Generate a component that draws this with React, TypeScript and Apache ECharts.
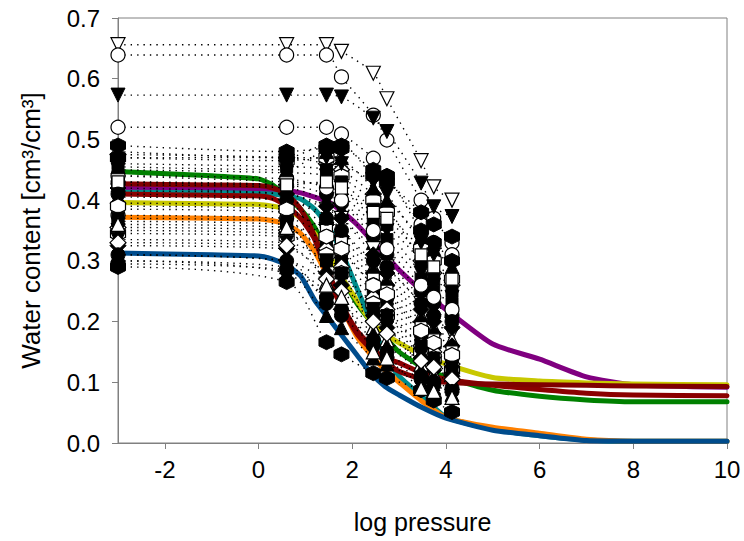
import React, { useEffect, useRef } from 'react';
import * as echarts from 'echarts';

// Observation pressure columns (log pressure)
const OBS_X = [-3, 0.6, 1.45, 1.77, 2.45, 2.74, 3.47, 3.74, 4.13];

// Marker codes: c=circle, td=triangle down, tu=triangle up, s=square, d=diamond, h=hexagon; o=open, f=filled
const SAMPLE_SHAPES = [
  'tdo', 'co', 'tdf', 'co', 'hf', 'do', 'ho', 'tdf', 'sf', 'cf',
  'tuf', 'tdo', 'tuo', 'df', 'so', 'co', 'sf', 'do', 'ho', 'tdf',
  'df', 'tuo', 'tuf', 'cf', 'hf', 'tuf', 'co', 'sf', 'tdf', 'df',
  'hf', 'tuf', 'so', 'cf', 'ho', 'sf', 'tdf', 'do', 'cf', 'tuo',
];

const SAMPLE_VALUES = [
  [0.656, 0.656, 0.656, 0.645, 0.609, 0.567, 0.465, 0.422, 0.400],
  [0.639, 0.639, 0.639, 0.603, 0.540, 0.499, 0.400, 0.370, 0.330],
  [0.573, 0.573, 0.573, 0.570, 0.535, 0.513, 0.428, 0.389, 0.373],
  [0.520, 0.520, 0.520, 0.509, 0.469, 0.439, 0.360, 0.330, 0.310],
  [0.490, 0.480, 0.485, 0.485, 0.450, 0.440, 0.350, 0.330, 0.300],
  [0.475, 0.470, 0.460, 0.450, 0.410, 0.390, 0.300, 0.280, 0.260],
  [0.470, 0.465, 0.470, 0.440, 0.400, 0.380, 0.320, 0.300, 0.270],
  [0.450, 0.445, 0.440, 0.420, 0.370, 0.350, 0.280, 0.260, 0.240],
  [0.440, 0.430, 0.425, 0.410, 0.360, 0.335, 0.270, 0.250, 0.230],
  [0.430, 0.425, 0.410, 0.395, 0.340, 0.310, 0.250, 0.230, 0.210],
  [0.425, 0.420, 0.400, 0.385, 0.330, 0.300, 0.240, 0.220, 0.200],
  [0.415, 0.410, 0.385, 0.370, 0.320, 0.290, 0.230, 0.200, 0.180],
  [0.405, 0.400, 0.375, 0.350, 0.290, 0.270, 0.210, 0.190, 0.170],
  [0.395, 0.390, 0.360, 0.340, 0.280, 0.260, 0.200, 0.180, 0.160],
  [0.385, 0.380, 0.350, 0.330, 0.270, 0.250, 0.190, 0.170, 0.150],
  [0.375, 0.370, 0.340, 0.315, 0.260, 0.240, 0.180, 0.160, 0.140],
  [0.365, 0.360, 0.330, 0.300, 0.250, 0.230, 0.170, 0.155, 0.135],
  [0.355, 0.350, 0.320, 0.290, 0.240, 0.220, 0.160, 0.150, 0.130],
  [0.345, 0.340, 0.310, 0.280, 0.230, 0.210, 0.150, 0.140, 0.120],
  [0.335, 0.330, 0.300, 0.270, 0.220, 0.200, 0.145, 0.130, 0.115],
  [0.325, 0.320, 0.280, 0.260, 0.210, 0.190, 0.140, 0.120, 0.110],
  [0.310, 0.300, 0.265, 0.240, 0.190, 0.170, 0.130, 0.115, 0.100],
  [0.300, 0.290, 0.250, 0.230, 0.180, 0.160, 0.120, 0.110, 0.095],
  [0.295, 0.285, 0.240, 0.220, 0.170, 0.150, 0.110, 0.100, 0.090],
  [0.290, 0.265, 0.166, 0.146, 0.115, 0.107, 0.087, 0.070, 0.051],
  [0.300, 0.280, 0.210, 0.190, 0.140, 0.130, 0.100, 0.090, 0.080],
  [0.440, 0.435, 0.420, 0.400, 0.350, 0.320, 0.260, 0.240, 0.220],
  [0.460, 0.455, 0.450, 0.430, 0.385, 0.360, 0.300, 0.270, 0.250],
  [0.480, 0.470, 0.470, 0.460, 0.430, 0.410, 0.330, 0.310, 0.290],
  [0.420, 0.410, 0.390, 0.370, 0.310, 0.280, 0.220, 0.200, 0.190],
  [0.470, 0.470, 0.490, 0.490, 0.440, 0.430, 0.380, 0.360, 0.340],
  [0.455, 0.450, 0.480, 0.470, 0.420, 0.400, 0.340, 0.320, 0.290],
  [0.430, 0.425, 0.430, 0.420, 0.380, 0.370, 0.310, 0.290, 0.270],
  [0.410, 0.400, 0.370, 0.350, 0.300, 0.290, 0.230, 0.210, 0.200],
  [0.390, 0.385, 0.340, 0.320, 0.260, 0.245, 0.185, 0.165, 0.145],
  [0.370, 0.365, 0.300, 0.280, 0.220, 0.210, 0.160, 0.140, 0.125],
  [0.350, 0.345, 0.290, 0.270, 0.200, 0.190, 0.130, 0.120, 0.105],
  [0.330, 0.325, 0.270, 0.250, 0.200, 0.180, 0.135, 0.125, 0.105],
  [0.310, 0.300, 0.230, 0.210, 0.160, 0.140, 0.105, 0.095, 0.085],
  [0.360, 0.355, 0.260, 0.240, 0.150, 0.140, 0.090, 0.085, 0.075],
];

// Fitted curves
const CURVE_X = [-3, -1, 0, 0.3, 0.6, 0.9, 1.2, 1.5, 1.8, 2.1, 2.4, 2.7, 3, 3.5, 4, 5, 6, 7, 8, 10];
const CURVE_PURPLE = [0.420, 0.419, 0.418, 0.417, 0.416, 0.412, 0.405, 0.397, 0.380, 0.360, 0.335, 0.310, 0.285, 0.250, 0.220, 0.163, 0.138, 0.109, 0.096, 0.092];
const CURVE_GREEN = [0.447, 0.440, 0.435, 0.425, 0.405, 0.385, 0.355, 0.310, 0.270, 0.230, 0.200, 0.175, 0.150, 0.125, 0.109, 0.087, 0.077, 0.071, 0.068, 0.068];
const CURVE_YELLOW = [0.396, 0.394, 0.393, 0.390, 0.385, 0.370, 0.345, 0.310, 0.270, 0.235, 0.200, 0.180, 0.165, 0.145, 0.130, 0.108, 0.102, 0.099, 0.097, 0.096];
const CURVE_TEAL = [0.413, 0.412, 0.411, 0.410, 0.407, 0.402, 0.385, 0.355, 0.310, 0.255, 0.200, 0.145, 0.110, 0.076, 0.043, 0.023, 0.012, 0.005, 0.003, 0.003];
const CURVE_ORANGE = [0.372, 0.370, 0.369, 0.366, 0.360, 0.345, 0.315, 0.270, 0.220, 0.175, 0.145, 0.120, 0.100, 0.068, 0.042, 0.026, 0.016, 0.006, 0.003, 0.003];
const CURVE_MAROON_B = [0.410, 0.408, 0.407, 0.403, 0.390, 0.370, 0.335, 0.270, 0.220, 0.180, 0.155, 0.140, 0.132, 0.115, 0.105, 0.095, 0.088, 0.082, 0.079, 0.078];
const CURVE_MAROON_A = [0.427, 0.425, 0.424, 0.420, 0.410, 0.385, 0.340, 0.280, 0.225, 0.185, 0.160, 0.135, 0.118, 0.105, 0.100, 0.097, 0.096, 0.095, 0.094, 0.093];
const CURVE_BLUE = [0.313, 0.310, 0.308, 0.303, 0.293, 0.275, 0.235, 0.205, 0.175, 0.145, 0.115, 0.093, 0.079, 0.058, 0.041, 0.021, 0.012, 0.004, 0.003, 0.003];

const X_TICKS = [-2, 0, 2, 4, 6, 8, 10];

const FONT = '"Liberation Sans", Arial, sans-serif';
const HEX = 'path://M50,0 L93.3,25 L93.3,75 L50,100 L6.7,75 L6.7,25 Z';

function symbolFor(code: string) {
  const open = code.endsWith('o');
  const kind = code.slice(0, -1);
  let symbol = 'circle';
  let rotate = 0;
  let size = 14;
  if (kind === 'td') { symbol = 'triangle'; rotate = 180; size = 14; }
  else if (kind === 'tu') { symbol = 'triangle'; size = 14; }
  else if (kind === 's') { symbol = 'rect'; size = 12; }
  else if (kind === 'd') { symbol = 'diamond'; size = 16; }
  else if (kind === 'h') { symbol = HEX; size = 15; }
  return {
    symbol,
    symbolRotate: rotate,
    symbolSize: size,
    itemStyle: open
      ? { color: '#ffffff', borderColor: '#000000', borderWidth: 1.2 }
      : { color: '#000000', borderColor: '#000000', borderWidth: 1 },
  };
}

function curveSeries(name: string, values: number[], color: string) {
  return {
    name,
    type: 'line',
    data: CURVE_X.map((x, i) => [x, values[i]]),
    showSymbol: false,
    smooth: 0.2,
    lineStyle: { color, width: 5, cap: 'round', join: 'round' },
    z: 1,
    silent: true,
  };
}

export default function App() {
  const ref = useRef<HTMLDivElement>(null);
  useEffect(() => {
    if (!ref.current) return;
    const chart = echarts.init(ref.current, undefined, { renderer: 'svg' });

    const curves = [
      curveSeries('purple', CURVE_PURPLE, '#800080'),
      curveSeries('green', CURVE_GREEN, '#008000'),
      curveSeries('yellow', CURVE_YELLOW, '#C8C800'),
      curveSeries('teal', CURVE_TEAL, '#008B8B'),
      curveSeries('orange', CURVE_ORANGE, '#FF8000'),
      curveSeries('maroonB', CURVE_MAROON_B, '#8B0000'),
      curveSeries('maroonA', CURVE_MAROON_A, '#800000'),
      curveSeries('blue', CURVE_BLUE, '#004C8C'),
    ];

    const obs = SAMPLE_VALUES.map((vals, k) => {
      const s = symbolFor(SAMPLE_SHAPES[k]);
      return {
        name: 'sample' + k,
        type: 'line',
        data: OBS_X.map((x, i) => [x, vals[i]]),
        showSymbol: true,
        showAllSymbol: true,
        smooth: 0.3,
        symbol: s.symbol,
        symbolRotate: s.symbolRotate,
        symbolSize: s.symbolSize,
        itemStyle: s.itemStyle,
        lineStyle: { color: '#000000', width: 1.4, type: [1.4, 5] },
        z: 2,
        silent: true,
      };
    });

    chart.setOption({
      animation: false,
      grid: {
        left: 118, right: 17, top: 18, bottom: 98,
        show: true, borderColor: '#808080', borderWidth: 1,
        containLabel: false,
      },
      xAxis: {
        type: 'value', min: -3, max: 10,
        name: 'log pressure', nameLocation: 'middle', nameGap: 66,
        nameTextStyle: { fontSize: 25, fontFamily: FONT, color: '#000' },
        axisLine: { show: true, onZero: false, lineStyle: { color: '#808080', width: 1 } },
        axisTick: { show: true, customValues: X_TICKS, length: 6, lineStyle: { color: '#808080' } },
        axisLabel: { customValues: X_TICKS, fontSize: 24, fontFamily: FONT, color: '#000', margin: 14 },
        splitLine: { show: false },
      },
      yAxis: {
        type: 'value', min: 0, max: 0.7, interval: 0.1,
        name: 'Water content [cm³/cm³]', nameLocation: 'middle', nameGap: 74,
        nameTextStyle: { fontSize: 26, fontFamily: FONT, color: '#000' },
        axisLine: { show: true, onZero: false, lineStyle: { color: '#808080', width: 1 } },
        axisTick: { show: true, length: 6, lineStyle: { color: '#808080' } },
        axisLabel: { fontSize: 24, fontFamily: FONT, color: '#000', margin: 18, formatter: (v: number) => v.toFixed(1) },
        splitLine: { show: false },
      },
      series: [...curves, ...obs],
    });
    return () => chart.dispose();
  }, []);
  return <div ref={ref} style={{ width: 744, height: 541, position: 'absolute', left: 0, top: 0 }} />;
}
